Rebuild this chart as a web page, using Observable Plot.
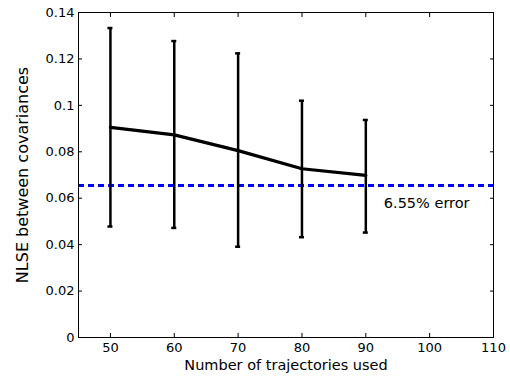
<!DOCTYPE html>
<html>
<head>
<meta charset="utf-8">
<script src="https://cdn.jsdelivr.net/npm/d3@7"></script>
<script src="https://cdn.jsdelivr.net/npm/@observablehq/plot@0.6"></script>
<style>
  html, body { margin: 0; padding: 0; background: #fff; }
  #chart { width: 510px; height: 381px; }
</style>
</head>
<body>
<div id="chart"></div>
<script>
const trajectories = [50, 60, 70, 80, 90];
const nlseMean = [0.0905, 0.0873, 0.0805, 0.0727, 0.0698];
const errLow = [0.0478, 0.0472, 0.0391, 0.0432, 0.0452];
const errHigh = [0.1333, 0.1277, 0.1224, 0.1020, 0.0937];
const threshold = 0.0655;
const thresholdLabel = "6.55% error";
const xTicks = [50, 60, 70, 80, 90, 100, 110];
const yTicks = [0, 0.02, 0.04, 0.06, 0.08, 0.1, 0.12, 0.14];
const xTitle = "Number of trajectories used";
const yTitle = "NLSE between covariances";

const rows = trajectories.map((t, i) => ({x: t, mean: nlseMean[i], lo: errLow[i], hi: errHigh[i]}));
const fmt = d => String(+d.toFixed(4));

const chart = Plot.plot({
  width: 510,
  height: 381,
  marginLeft: 78,
  marginRight: 17,
  marginTop: 12,
  marginBottom: 44,
  style: "font-family: 'DejaVu Sans', sans-serif; font-size: 13px; color: black; background: white;",
  x: {domain: [45, 110]},
  y: {domain: [0, 0.14]},
  marks: [
    Plot.ruleY([threshold], {stroke: "#0000ff", strokeWidth: 3, strokeDasharray: "6,4"}),
    Plot.ruleX(rows, {x: "x", y1: "lo", y2: "hi", stroke: "black", strokeWidth: 2.5}),
    Plot.ruleY(rows, {y: "hi", x1: "x", x2: "x", insetLeft: -2.5, insetRight: -2.5, stroke: "black", strokeWidth: 2.5}),
    Plot.ruleY(rows, {y: "lo", x1: "x", x2: "x", insetLeft: -2.5, insetRight: -2.5, stroke: "black", strokeWidth: 2.5}),
    Plot.line(rows, {x: "x", y: "mean", stroke: "black", strokeWidth: 3.2}),
    Plot.text([thresholdLabel], {x: trajectories[trajectories.length - 1], y: threshold, text: d => d, dx: 18, dy: 18, textAnchor: "start", fill: "black", fontSize: 14.5}),
    Plot.axisX({ticks: xTicks, tickSize: -4, fill: "none", label: null, anchor: "bottom"}),
    Plot.axisX({ticks: xTicks, tickSize: -4, fill: "none", label: null, anchor: "top"}),
    Plot.axisY({ticks: yTicks, tickSize: -4, fill: "none", label: null, anchor: "left"}),
    Plot.axisY({ticks: yTicks, tickSize: -4, fill: "none", label: null, anchor: "right"}),
    Plot.axisX({ticks: xTicks, tickSize: 0, tickPadding: 5, label: null, anchor: "bottom", tickFormat: fmt, fill: "black", fontSize: 13}),
    Plot.axisY({ticks: yTicks, tickSize: 0, tickPadding: 4, label: null, anchor: "left", tickFormat: fmt, fill: "black", fontSize: 13}),
    Plot.frame({stroke: "black", strokeWidth: 1}),
    Plot.text([xTitle], {frameAnchor: "bottom", text: d => d, dy: 32, fill: "black", fontSize: 14.5}),
    Plot.text([yTitle], {frameAnchor: "left", textAnchor: "middle", text: d => d, rotate: -90, dx: -56, fill: "black", fontSize: 16})
  ]
});
document.getElementById("chart").appendChild(chart);
</script>
</body>
</html>
